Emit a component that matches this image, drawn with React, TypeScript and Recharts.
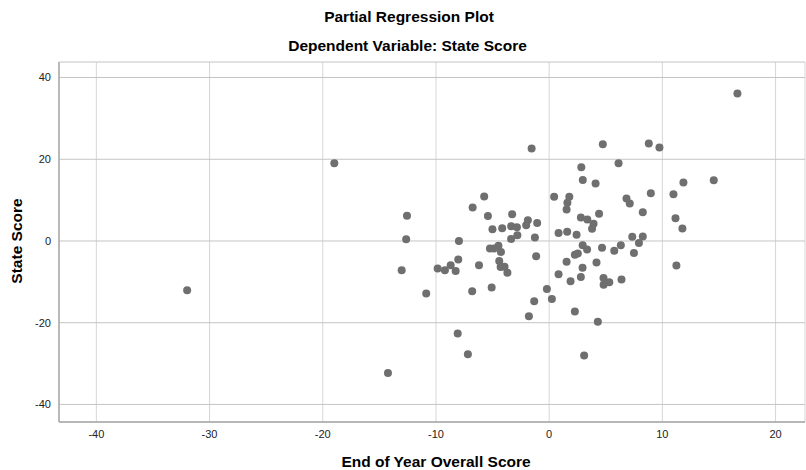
import React from "react";
import { ScatterChart, Scatter, XAxis, YAxis, CartesianGrid } from "recharts";

const endOfYearScore: number[] = [
  -31.98, -18.98, -14.24, -13.03, -12.56, -12.63, -10.86, -9.85, -9.21, -8.7,
  -8.26, -8.03, -7.97, -8.08, -7.18, -6.76, -6.8, -6.2, -5.41, -5.74,
  -5.08, -5.01, -5.23, -4.88, -4.48, -4.26, -4.41, -4.29, -3.94, -3.69,
  -4.15, -3.35, -2.85, -3.27, -2.81, -3.36, -1.88, -2.03, -1.06, -1.26,
  -1.15, -1.55, -0.2, -1.32, 0.24, -1.79, 0.44, 1.78, 1.61, 1.54,
  0.83, 1.59, 2.42, 2.84, 2.97, 4.1, 2.8, 3.37, 3.92, 3.79,
  4.41, 2.96, 3.35, 2.27, 2.53, 1.54, 4.18, 2.95, 0.83, 1.89,
  2.8, 2.27, 4.3, 3.09, 4.67, 5.75, 6.33, 7.49, 4.8, 5.31,
  4.81, 6.39, 7.34, 8.27, 7.93, 8.27, 6.83, 7.12, 8.98, 4.74,
  8.8, 9.74, 6.13, 10.98, 11.16, 11.77, 11.24, 11.86, 14.54, 16.63,
];

const stateScore: number[] = [
  -12.04, 19.05, -32.29, -7.15, 6.19, 0.44, -12.85, -6.73, -7.15, -5.92,
  -7.32, -4.53, 0.0, -22.64, -27.71, 8.2, -12.29, -5.92, 6.14, 10.89,
  -11.38, 2.84, -1.84, -1.84, -1.15, -2.67, -4.87, -6.34, -6.29, -7.76,
  3.13, 3.62, 3.38, 6.56, 1.42, 0.51, 5.09, 3.87, 4.43, 0.86,
  -3.72, 22.64, -11.73, -14.74, -14.17, -18.41, 10.8, 10.8, 9.33, 7.71,
  1.98, 2.28, 1.54, 18.07, 14.93, 14.08, 5.75, 5.26, 4.23, 3.01,
  6.68, -1.03, -2.08, -3.35, -3.06, -5.07, -5.24, -6.58, -8.13, -9.84,
  -8.79, -17.26, -19.76, -28.03, -1.64, -2.37, -1.03, -2.94, -9.03, -10.09,
  -10.7, -9.42, 1.05, 1.1, -0.49, 7.05, 10.4, 9.18, 11.7, 23.7,
  23.87, 22.89, 19.05, 11.46, 5.58, 3.06, -6.0, 14.32, 14.88, 36.11,
];

const xTicks: number[] = [-40, -30, -20, -10, 0, 10, 20];
const yTicks: number[] = [-40, -20, 0, 20, 40];

const titleText = "Partial Regression Plot";
const subtitleText = "Dependent Variable: State Score";
const xLabel = "End of Year Overall Score";
const yLabel = "State Score";

const points = endOfYearScore.map((x, i) => ({ x, y: stateScore[i] }));

const FONT = "'Liberation Sans', Arial, sans-serif";

const Dot = (props: any) => {
  const { cx, cy } = props;
  if (cx == null || cy == null) return null;
  return <circle cx={cx} cy={cy} r={4} fill="#6f6f6f" />;
};

const labelStyle: React.CSSProperties = {
  position: "absolute",
  textAlign: "center",
  fontSize: 15.5,
  fontWeight: "bold",
  lineHeight: "18px",
  color: "#000",
  whiteSpace: "nowrap",
};

export default function App() {
  return (
    <div style={{ position: "relative", width: 806, height: 470, background: "#fff", fontFamily: FONT }}>
      <style>{"body{margin:0;}"}</style>
      <ScatterChart
        width={806}
        height={470}
        margin={{ top: 62, right: 1, bottom: 18, left: 0 }}
      >
        <CartesianGrid horizontal={false} vertical={true} stroke="#d6d6d6" />
        <CartesianGrid horizontal={true} vertical={false} stroke="#c4c4c4" />
        <XAxis
          type="number"
          dataKey="x"
          domain={[-43.3, 22.6]}
          ticks={xTicks}
          allowDataOverflow
          height={30}
          axisLine={{ stroke: "#a8a8a8", strokeWidth: 1.5 }}
          tickLine={false}
          tick={{ fill: "#222", fontSize: 11, fontFamily: FONT }}
        />
        <YAxis
          type="number"
          dataKey="y"
          domain={[-44.3, 43.8]}
          ticks={yTicks}
          allowDataOverflow
          width={59}
          axisLine={{ stroke: "#a8a8a8", strokeWidth: 1.5 }}
          tickLine={false}
          tick={{ fill: "#222", fontSize: 11, fontFamily: FONT }}
        />
        <Scatter data={points} shape={Dot} isAnimationActive={false} />
      </ScatterChart>
      <div style={{ ...labelStyle, left: 0, width: 818, top: 8 }}>{titleText}</div>
      <div style={{ ...labelStyle, left: 0, width: 815, top: 37 }}>{subtitleText}</div>
      <div style={{ ...labelStyle, left: 59, width: 754, top: 453 }}>{xLabel}</div>
      <div style={{ position: "absolute", left: 17, top: 241, width: 0, height: 0 }}>
        <div style={{ ...labelStyle, left: -100, top: -9, width: 200, transform: "rotate(-90deg)" }}>{yLabel}</div>
      </div>
    </div>
  );
}
